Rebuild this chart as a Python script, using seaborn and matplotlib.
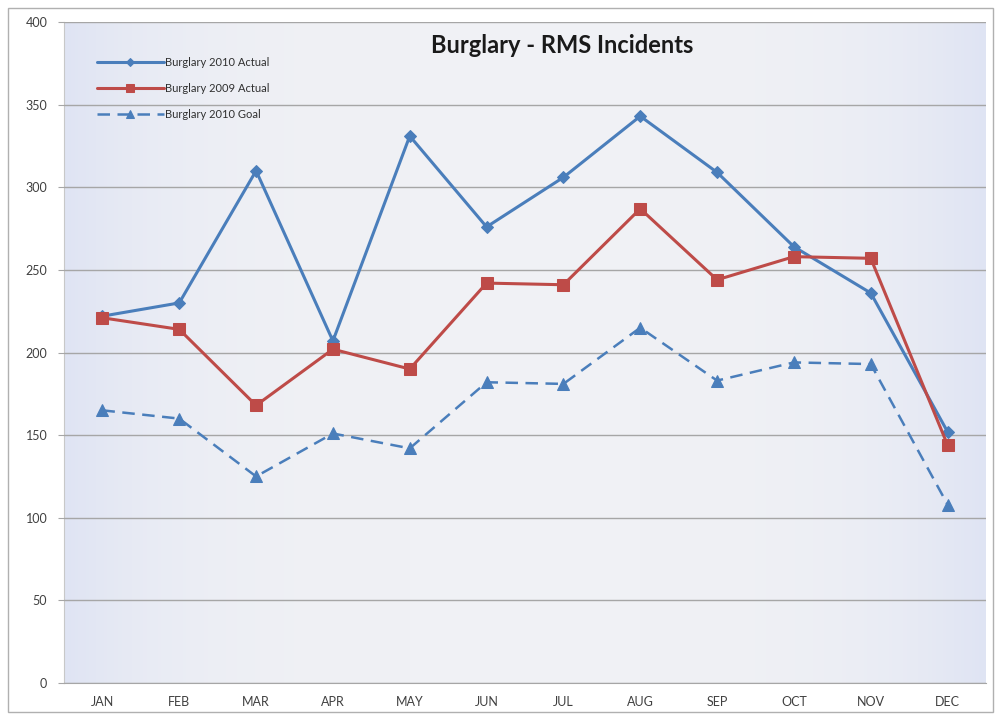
import numpy as np
import pandas as pd
import matplotlib.pyplot as plt
import seaborn as sns
from matplotlib.patches import Rectangle
from matplotlib.colors import LinearSegmentedColormap

months = ['JAN', 'FEB', 'MAR', 'APR', 'MAY', 'JUN', 'JUL', 'AUG', 'SEP', 'OCT', 'NOV', 'DEC']
actual_2010 = [222, 230, 310, 207, 331, 276, 306, 343, 309, 264, 236, 152]
actual_2009 = [221, 214, 168, 202, 190, 242, 241, 287, 244, 258, 257, 144]
goal_2010 = [165, 160, 125, 151, 142, 182, 181, 215, 183, 194, 193, 108]
y_ticks = [0, 50, 100, 150, 200, 250, 300, 350, 400]

blue = '#4a7ebb'
red = '#be4b48'

sns.set_style('white')
plt.rcParams['font.family'] = ['Lato', 'DejaVu Sans']

fig = plt.figure(figsize=(10.01, 7.18), dpi=100)
ax = fig.add_axes([64 / 1001, 35 / 718, 922 / 1001, 661 / 718])

# outer frame like the pasted excel chart
fig.patches.append(Rectangle((8 / 1001, 6 / 718), 985 / 1001, 704 / 718, transform=fig.transFigure,
                             fill=False, edgecolor='#b0b0b0', lw=1))

# gradient plot area
grad = np.abs(np.linspace(-1, 1, 256)) ** 4
grad = np.tile(grad, (2, 1))
cmap = LinearSegmentedColormap.from_list('bg', ['#f0f1f5', '#dfe4f3'])
ax.imshow(grad, cmap=cmap, aspect='auto', extent=[-0.5, 11.5, 0, 400], zorder=0)

sns.lineplot(x=months, y=actual_2010, ax=ax, color=blue, lw=2.2, marker='D', markersize=6,
             markeredgecolor=blue, sort=False, label='Burglary 2010 Actual', zorder=3)
sns.lineplot(x=months, y=actual_2009, ax=ax, color=red, lw=2.2, marker='s', markersize=8,
             markeredgecolor=red, sort=False, label='Burglary 2009 Actual', zorder=4)
sns.lineplot(x=months, y=goal_2010, ax=ax, color=blue, lw=1.8, marker='^', markersize=8,
             markeredgecolor=blue, sort=False, label='Burglary 2010 Goal', zorder=3)
ax.lines[-1].set_dashes([5, 3])

ax.set_xlim(-0.5, 11.5)
ax.set_ylim(0, 400)
ax.set_yticks(y_ticks)
ax.yaxis.grid(True, color='#a6a6a6', lw=1)
ax.set_axisbelow(False)
for gl in ax.get_ygridlines():
    gl.set_zorder(1)
ax.set_xticks(np.arange(0.5, 11.5, 1), minor=True)
ax.tick_params(axis='x', which='major', length=0, labelsize=9, colors='#404040', pad=9)
ax.tick_params(axis='x', which='minor', length=5, color='#a6a6a6')
ax.tick_params(axis='y', length=4, color='#a6a6a6', labelsize=9, labelcolor='#404040', pad=8, left=True)

for s in ['top', 'right']:
    ax.spines[s].set_visible(False)
ax.spines['left'].set_color('#c8c8c8')
ax.spines['bottom'].set_color('#a6a6a6')

ax.set_title('Burglary - RMS Incidents', fontsize=17, fontweight='bold', color='#1a1a1a',
             x=0.54, y=0.94)

leg = ax.legend(loc='upper left', bbox_to_anchor=(0.025, 0.962), frameon=False, fontsize=8,
                handlelength=6.0, handletextpad=0.15, labelspacing=1.35, markerscale=0.7)
for t in leg.get_texts():
    t.set_color('#303030')

fig.savefig('out.png', dpi=100)
